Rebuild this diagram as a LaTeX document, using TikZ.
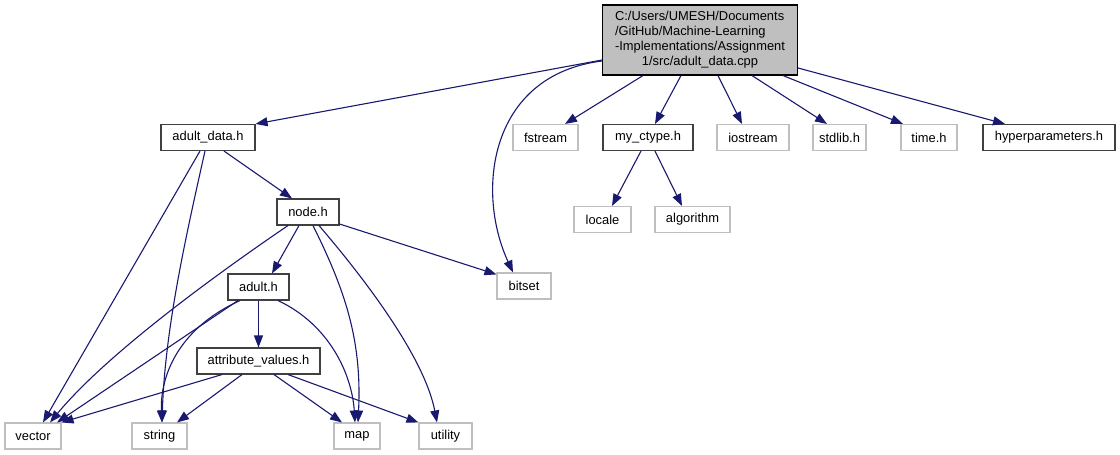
\documentclass[tikz,border=0pt]{standalone}
\usepackage{fontspec}
\setmainfont{Liberation Sans}
\usetikzlibrary{arrows.meta}
\definecolor{edgec}{RGB}{25,25,112}
\definecolor{graybd}{RGB}{191,191,191}
\definecolor{mainfill}{RGB}{191,191,191}
\definecolor{darkbd}{RGB}{64,64,64}
\begin{document}
\begin{tikzpicture}[x=1pt,y=-1pt,
  font=\fontsize{12.9}{15}\selectfont,
  fbox/.style={draw=darkbd, line width=1.1pt, fill=white, inner sep=0pt, minimum height=26pt},
  gbox/.style={draw=graybd, line width=1.1pt, fill=white, inner sep=0pt, minimum height=26pt},
  mainbox/.style={draw=black, line width=1.1pt, fill=mainfill, inner sep=0pt, minimum width=195pt, minimum height=70pt},
  dep/.style={draw=edgec, line width=1.1pt, -{Triangle[length=12pt,width=9pt]}}]
\useasboundingbox (0,0) rectangle (1120,455);

% nodes
\node[mainbox] (main) at (700,40) {\begin{tabular}{@{}l@{}}C:/Users/UMESH/Documents\\/GitHub/Machine-Learning\\-Implementations/Assignment\\\multicolumn{1}{@{}c@{}}{1/src/adult\_data.cpp}\end{tabular}};

\node[fbox, minimum width=94pt] (adultdata) at (208,137.5) {adult\_data.h};
\node[gbox, minimum width=65pt] (fstream) at (545.5,137.5) {fstream};
\node[fbox, minimum width=90pt] (myctype) at (648,137.5) {my\_ctype.h};
\node[gbox, minimum width=72pt] (iostream) at (753,137.5) {iostream};
\node[gbox, minimum width=53pt] (stdlib) at (839.5,137.5) {stdlib.h};
\node[gbox, minimum width=56pt] (time) at (929,137.5) {time.h};
\node[fbox, minimum width=132pt] (hyper) at (1049,137.5) {hyperparameters.h};

\node[gbox, minimum width=57pt] (locale) at (602.5,219.5) {locale};
\node[gbox, minimum width=75pt] (algorithm) at (692.5,219.5) {algorithm};

\node[fbox, minimum width=62pt] (nodeh) at (308,212) {node.h};
\node[gbox, minimum width=54pt] (bitset) at (524,286) {bitset};
\node[fbox, minimum width=61pt] (adulth) at (258.5,287) {adult.h};
\node[fbox, minimum width=123pt] (attr) at (258.5,361) {attribute\_values.h};

\node[gbox, minimum width=56pt] (vector) at (33,436) {vector};
\node[gbox, minimum width=55pt] (string) at (159.5,436) {string};
\node[gbox, minimum width=46pt] (map) at (357,436) {map};
\node[gbox, minimum width=53pt] (utility) at (445.5,436) {utility};

% edges from main
\draw[dep] ([yshift=-20pt]main.west) -- (adultdata.north east);
\draw[dep] ([yshift=-21pt]main.west) .. controls (490,75) and (475,190) .. ([xshift=-11pt]bitset.north);
\draw[dep] ([xshift=-57pt]main.south) -- ([xshift=19.5pt]fstream.north);
\draw[dep] ([xshift=-19pt]main.south) -- ([xshift=7pt]myctype.north);
\draw[dep] ([xshift=18pt]main.south) -- ([xshift=-11pt]iostream.north);
\draw[dep] ([xshift=52pt]main.south) -- ([xshift=-12.5pt]stdlib.north);
\draw[dep] ([xshift=83pt]main.south) -- ([xshift=-26pt]time.north);
\draw[dep] ([yshift=-28pt]main.east) -- ([xshift=-44pt]hyper.north);

% my_ctype
\draw[dep] ([xshift=-7pt]myctype.south) -- ([xshift=9.5pt]locale.north);
\draw[dep] ([xshift=7pt]myctype.south) -- ([xshift=-10.5pt]algorithm.north);

% adult_data
\draw[dep] ([xshift=-8pt]adultdata.south) -- ([xshift=10pt]vector.north);
\draw[dep] ([xshift=-3pt]adultdata.south) .. controls (185,240) and (165,330) .. ([xshift=2.5pt]string.north);
\draw[dep] ([xshift=16pt]adultdata.south) -- ([xshift=-16pt]nodeh.north);

% node.h
\draw[dep] ([xshift=-9pt]nodeh.south) -- ([xshift=13.5pt]adulth.north);
\draw[dep] ([xshift=-20pt]nodeh.south) .. controls (230,265) and (110,350) .. ([xshift=17pt]vector.north);
\draw[dep] ([xshift=5pt]nodeh.south) .. controls (345,290) and (362,340) .. ([xshift=1pt]map.north);
\draw[dep] ([xshift=11pt]nodeh.south) .. controls (370,285) and (425,360) .. ([xshift=-8.5pt]utility.north);
\draw[dep] ([yshift=-12pt]nodeh.east) -- ([yshift=-2pt]bitset.north west);

% adult.h
\draw[dep] (adulth.south) -- (attr.north);
\draw[dep] ([xshift=-20.5pt]adulth.south) -- ([xshift=24pt]vector.north);
\draw[dep] ([xshift=-18.5pt]adulth.south) .. controls (175,330) and (160,380) .. ([xshift=2.5pt]string.north);
\draw[dep] ([xshift=19.5pt]adulth.south) .. controls (330,325) and (352,375) .. ([xshift=-2pt]map.north);

% attribute_values.h
\draw[dep] ([xshift=-36.5pt]attr.south) -- (vector.north east);
\draw[dep] ([xshift=-16.5pt]attr.south) -- ([xshift=17.5pt]string.north);
\draw[dep] ([xshift=15.5pt]attr.south) -- ([xshift=-15pt]map.north);
\draw[dep] ([xshift=29.5pt]attr.south) -- (utility.north west);
\end{tikzpicture}
\end{document}
